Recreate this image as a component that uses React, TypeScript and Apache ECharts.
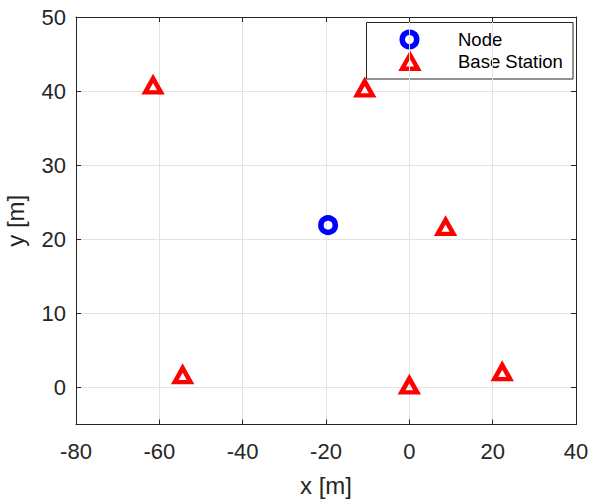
import React, { useEffect, useRef } from "react";
import * as echarts from "echarts";

const seriesNames = ["Node", "Base Station"];
const nodePoints: [number, number][] = [[-19.5, 21.9]];
const baseStationPoints: [number, number][] = [
  [-61.5, 40.5],
  [-10.7, 40.1],
  [8.7, 21.4],
  [-54.4, 1.4],
  [0, 0],
  [22.3, 1.8],
];
const xRange = { min: -80, max: 40, interval: 20 };
const yRange = { min: -5, max: 50 };
const xTitle = "x [m]";
const yTitle = "y [m]";

const AX = "#262626";
const FONT = "'Liberation Sans', Arial, Helvetica, sans-serif";
const BLUE = "#0000ff";
const RED = "#ff0000";

export default function App() {
  const ref = useRef<HTMLDivElement>(null);
  useEffect(() => {
    if (!ref.current) return;
    const chart = echarts.init(ref.current, undefined, { renderer: "svg" });
    const tickCommon = { show: true, inside: true, length: 5, lineStyle: { color: AX, width: 1 } };
    const lineCommon = { show: true, onZero: false, lineStyle: { color: AX, width: 1 } };
    chart.setOption({
      animation: false,
      backgroundColor: "#ffffff",
      grid: {
        left: 76,
        right: 15,
        top: 17,
        bottom: 75.5,
        containLabel: false,
        outerBoundsMode: "none",
      },
      xAxis: [
        {
          type: "value",
          position: "bottom",
          min: xRange.min,
          max: xRange.max,
          interval: xRange.interval,
          name: xTitle,
          nameLocation: "middle",
          nameGap: 49,
          nameTextStyle: { fontSize: 24, color: AX, fontFamily: FONT },
          axisLine: lineCommon,
          axisTick: tickCommon,
          axisLabel: { fontSize: 22, color: AX, fontFamily: FONT, margin: 16 },
          splitLine: { show: true, lineStyle: { color: "#e3e3e3", width: 1 } },
        },
        {
          type: "value",
          position: "top",
          min: xRange.min,
          max: xRange.max,
          interval: xRange.interval,
          axisLine: lineCommon,
          axisTick: tickCommon,
          axisLabel: { show: false },
          splitLine: { show: false },
        },
      ],
      yAxis: [
        {
          type: "value",
          position: "left",
          min: yRange.min,
          max: yRange.max,
          name: yTitle,
          nameLocation: "middle",
          nameGap: 49,
          nameTextStyle: { fontSize: 24, color: AX, fontFamily: FONT },
          axisLine: lineCommon,
          axisTick: tickCommon,
          axisLabel: {
            fontSize: 22,
            color: AX,
            fontFamily: FONT,
            margin: 10,
            formatter: (v: number) => (v === yRange.min ? "" : String(v)),
          },
          splitLine: { show: true, lineStyle: { color: "#e3e3e3", width: 1 } },
        },
        {
          type: "value",
          position: "right",
          min: yRange.min,
          max: yRange.max,
          axisLine: lineCommon,
          axisTick: tickCommon,
          axisLabel: { show: false },
          splitLine: { show: false },
        },
      ],
      graphic: [
        {
          type: "group",
          z: 100,
          children: [
            {
              type: "rect",
              shape: { x: 366.5, y: 22.5, width: 206.5, height: 56.5 },
              style: { fill: "#ffffff", stroke: AX, lineWidth: 1 },
            },
            {
              type: "circle",
              shape: { cx: 409.5, cy: 39.5, r: 7.25 },
              style: { fill: "none", stroke: BLUE, lineWidth: 5.5 },
            },
            {
              type: "polygon",
              shape: {
                points: [
                  [410, 54.75],
                  [417.85, 68.75],
                  [402.15, 68.75],
                ],
              },
              style: { fill: "none", stroke: RED, lineWidth: 4.5, lineJoin: "miter" },
            },
            {
              type: "text",
              x: 458,
              y: 39.5,
              style: {
                text: seriesNames[0],
                fontSize: 18.5,
                fontFamily: FONT,
                fill: "#000000",
                verticalAlign: "middle",
                align: "left",
              },
            },
            {
              type: "text",
              x: 458,
              y: 61.8,
              style: {
                text: seriesNames[1],
                fontSize: 18.5,
                fontFamily: FONT,
                fill: "#000000",
                verticalAlign: "middle",
                align: "left",
              },
            },
          ],
        },
      ],
      series: [
        {
          name: seriesNames[0],
          type: "scatter",
          data: nodePoints,
          symbol: "circle",
          symbolSize: 14.5,
          itemStyle: { color: "rgba(0,0,0,0)", borderColor: BLUE, borderWidth: 5.5, opacity: 1 },
          emphasis: { disabled: true },
        },
        {
          name: seriesNames[1],
          type: "scatter",
          data: baseStationPoints,
          symbol: "triangle",
          symbolSize: [15.7, 14],
          symbolOffset: [0, -2],
          itemStyle: { color: "rgba(0,0,0,0)", borderColor: RED, borderWidth: 4.5, opacity: 1 },
          emphasis: { disabled: true },
        },
      ],
    });
    return () => chart.dispose();
  }, []);
  return (
    <div
      ref={ref}
      style={{ position: "fixed", left: 0, top: 0, width: 591, height: 500, background: "#fff" }}
    />
  );
}
